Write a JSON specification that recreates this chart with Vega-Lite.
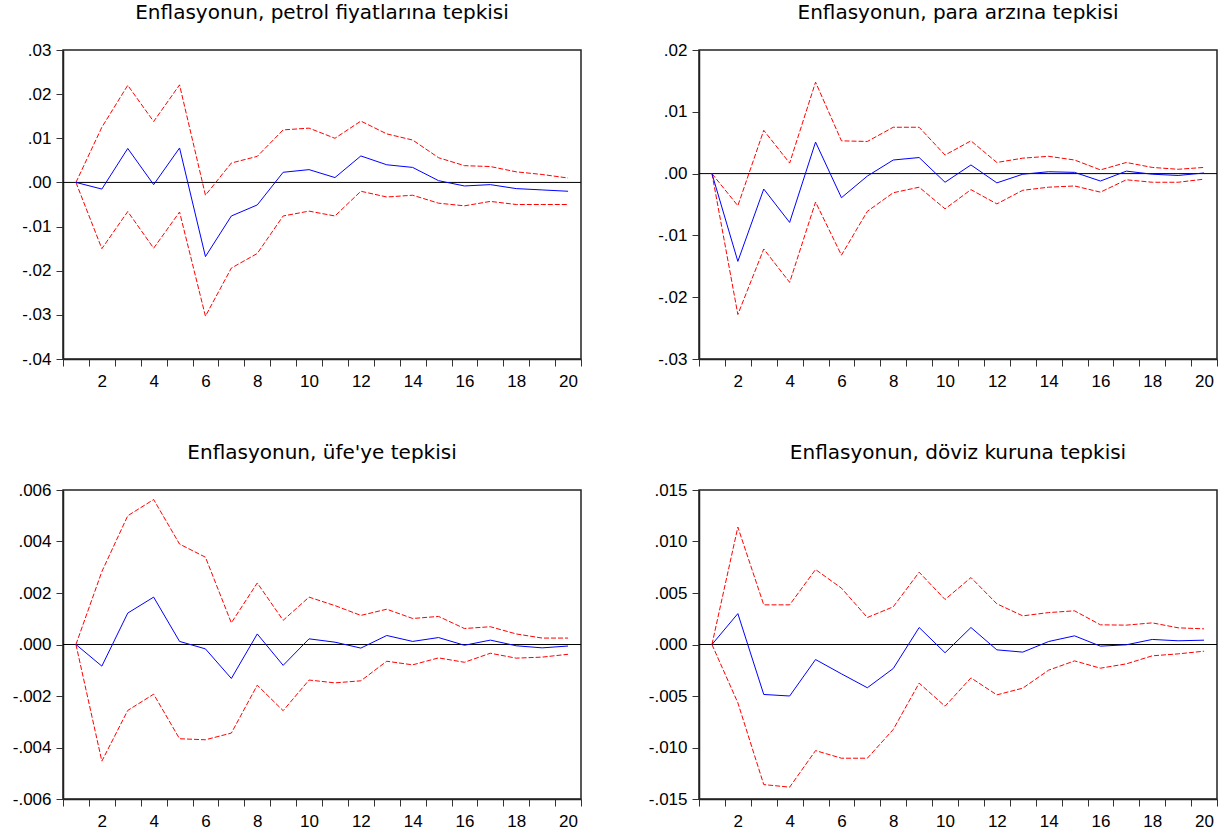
{
  "$schema": "https://vega.github.io/schema/vega-lite/v6.json",
  "padding": {"left": 11, "top": 2, "right": 5, "bottom": 5},
  "background": "#ffffff",
  "columns": 2,
  "spacing": {"row": 131, "column": 118},
  "bounds": "flush",
  "datasets": {
    "p1": [
      {"t":1,"r":0,"u":0,"l":0},
      {"t":2,"r":-0.0015,"u":0.0125,"l":-0.0150},
      {"t":3,"r":0.0077,"u":0.0220,"l":-0.0066},
      {"t":4,"r":-0.0005,"u":0.0138,"l":-0.0149},
      {"t":5,"r":0.0078,"u":0.0221,"l":-0.0067},
      {"t":6,"r":-0.0168,"u":-0.0029,"l":-0.0303},
      {"t":7,"r":-0.0076,"u":0.0044,"l":-0.0194},
      {"t":8,"r":-0.0051,"u":0.0059,"l":-0.0161},
      {"t":9,"r":0.0023,"u":0.0119,"l":-0.0076},
      {"t":10,"r":0.0029,"u":0.0123,"l":-0.0065},
      {"t":11,"r":0.0011,"u":0.0100,"l":-0.0076},
      {"t":12,"r":0.0060,"u":0.0139,"l":-0.0020},
      {"t":13,"r":0.0040,"u":0.0110,"l":-0.0033},
      {"t":14,"r":0.0034,"u":0.0096,"l":-0.0029},
      {"t":15,"r":0.0004,"u":0.0056,"l":-0.0047},
      {"t":16,"r":-0.0008,"u":0.0038,"l":-0.0053},
      {"t":17,"r":-0.0005,"u":0.0036,"l":-0.0043},
      {"t":18,"r":-0.0014,"u":0.0024,"l":-0.0050},
      {"t":19,"r":-0.0017,"u":0.0018,"l":-0.0050},
      {"t":20,"r":-0.0020,"u":0.0010,"l":-0.0050}
    ],
    "p2": [
      {"t":1,"r":0,"u":0,"l":0},
      {"t":2,"r":-0.0142,"u":-0.0052,"l":-0.0228},
      {"t":3,"r":-0.0025,"u":0.0070,"l":-0.0122},
      {"t":4,"r":-0.0079,"u":0.0017,"l":-0.0176},
      {"t":5,"r":0.0051,"u":0.0148,"l":-0.0046},
      {"t":6,"r":-0.0039,"u":0.0053,"l":-0.0132},
      {"t":7,"r":-0.0004,"u":0.0052,"l":-0.0061},
      {"t":8,"r":0.0022,"u":0.0075,"l":-0.0031},
      {"t":9,"r":0.0026,"u":0.0075,"l":-0.0022},
      {"t":10,"r":-0.0014,"u":0.0030,"l":-0.0057},
      {"t":11,"r":0.0014,"u":0.0053,"l":-0.0026},
      {"t":12,"r":-0.0015,"u":0.0018,"l":-0.0049},
      {"t":13,"r":-0.0001,"u":0.0025,"l":-0.0027},
      {"t":14,"r":0.0003,"u":0.0028,"l":-0.0022},
      {"t":15,"r":0.0002,"u":0.0022,"l":-0.0020},
      {"t":16,"r":-0.0012,"u":0.0006,"l":-0.0030},
      {"t":17,"r":0.0004,"u":0.0018,"l":-0.0010},
      {"t":18,"r":-0.0001,"u":0.0010,"l":-0.0014},
      {"t":19,"r":-0.0003,"u":0.0007,"l":-0.0014},
      {"t":20,"r":0.0001,"u":0.0010,"l":-0.0009}
    ],
    "p3": [
      {"t":1,"r":0,"u":0,"l":0},
      {"t":2,"r":-0.00084,"u":0.00283,"l":-0.00453},
      {"t":3,"r":0.00122,"u":0.00500,"l":-0.00256},
      {"t":4,"r":0.00184,"u":0.00563,"l":-0.00193},
      {"t":5,"r":0.00012,"u":0.00390,"l":-0.00366},
      {"t":6,"r":-0.00017,"u":0.00339,"l":-0.00370},
      {"t":7,"r":-0.00132,"u":0.00084,"l":-0.00344},
      {"t":8,"r":0.00041,"u":0.00239,"l":-0.00158},
      {"t":9,"r":-0.00081,"u":0.00094,"l":-0.00257},
      {"t":10,"r":0.00022,"u":0.00184,"l":-0.00138},
      {"t":11,"r":0.00009,"u":0.00151,"l":-0.00149},
      {"t":12,"r":-0.00014,"u":0.00113,"l":-0.00141},
      {"t":13,"r":0.00035,"u":0.00137,"l":-0.00065},
      {"t":14,"r":0.00012,"u":0.00101,"l":-0.00079},
      {"t":15,"r":0.00027,"u":0.00109,"l":-0.00052},
      {"t":16,"r":-0.00003,"u":0.00062,"l":-0.00069},
      {"t":17,"r":0.00017,"u":0.00069,"l":-0.00034},
      {"t":18,"r":-0.00005,"u":0.00041,"l":-0.00053},
      {"t":19,"r":-0.00013,"u":0.00025,"l":-0.00049},
      {"t":20,"r":-0.00006,"u":0.00025,"l":-0.00038}
    ],
    "p4": [
      {"t":1,"r":0,"u":0,"l":0},
      {"t":2,"r":0.0030,"u":0.0114,"l":-0.00566},
      {"t":3,"r":-0.00485,"u":0.00385,"l":-0.0136},
      {"t":4,"r":-0.0050,"u":0.00385,"l":-0.01385},
      {"t":5,"r":-0.00146,"u":0.00728,"l":-0.0103},
      {"t":6,"r":-0.00285,"u":0.00547,"l":-0.01104},
      {"t":7,"r":-0.0042,"u":0.00262,"l":-0.01104},
      {"t":8,"r":-0.00233,"u":0.00366,"l":-0.00825},
      {"t":9,"r":0.00165,"u":0.00702,"l":-0.00375},
      {"t":10,"r":-0.0008,"u":0.00437,"l":-0.00599},
      {"t":11,"r":0.00165,"u":0.0065,"l":-0.00324},
      {"t":12,"r":-0.00052,"u":0.00395,"l":-0.00489},
      {"t":13,"r":-0.00074,"u":0.00278,"l":-0.00424},
      {"t":14,"r":0.00029,"u":0.0031,"l":-0.00249},
      {"t":15,"r":0.00084,"u":0.00327,"l":-0.00159},
      {"t":16,"r":-0.00016,"u":0.00191,"l":-0.0023},
      {"t":17,"r":-0.00003,"u":0.00188,"l":-0.00188},
      {"t":18,"r":0.00049,"u":0.0021,"l":-0.0011},
      {"t":19,"r":0.00036,"u":0.00162,"l":-0.00091},
      {"t":20,"r":0.00042,"u":0.00152,"l":-0.00065}
    ]
  },
  "concat": [
    {
      "width": 518, "height": 309,
      "title": "Enflasyonun, petrol fiyatlarına tepkisi",
      "layer": [
        {"data": {"values": [{}]}, "mark": {"type": "rule", "color": "#000000", "strokeWidth": 1},
         "encoding": {"y": {"datum": 0, "type": "quantitative", "title": null, "scale": {"domain": [-0.04, 0.03], "nice": false, "zero": false},
           "axis": {"values": [-0.04,-0.03,-0.02,-0.01,0,0.01,0.02,0.03], "labelExpr": "(datum.value<-1e-9?'-':'')+replace(format(abs(datum.value),'.2f'),'0.','.')", "labelFlush": false, "labelOverlap": false}}}},
        {"data": {"name": "p1"}, "mark": {"type": "line", "color": "#ff0000", "strokeWidth": 1, "strokeDash": [5, 2]},
         "encoding": {
           "x": {"field": "t", "type": "quantitative", "title": null, "scale": {"domain": [0.5, 20.5], "nice": false, "zero": false},
                 "axis": {"values": [0.5,1.5,2.5,3.5,4.5,5.5,6.5,7.5,8.5,9.5,10.5,11.5,12.5,13.5,14.5,15.5,16.5,17.5,18.5,19.5,20.5], "labelExpr": "round(datum.value*2)%4==3 ? ''+round(datum.value+0.5) : ''", "labelOffset": 12.95, "labelFlush": false, "labelOverlap": false}},
           "y": {"field": "u", "type": "quantitative", "title": null, "scale": {"domain": [-0.04, 0.03], "nice": false, "zero": false},
                 "axis": {"values": [-0.04,-0.03,-0.02,-0.01,0,0.01,0.02,0.03], "labelExpr": "(datum.value<-1e-9?'-':'')+replace(format(abs(datum.value),'.2f'),'0.','.')", "labelFlush": false, "labelOverlap": false}}
         }},
        {"data": {"name": "p1"}, "mark": {"type": "line", "color": "#ff0000", "strokeWidth": 1, "strokeDash": [5, 2]},
         "encoding": {
           "x": {"field": "t", "type": "quantitative", "title": null, "scale": {"domain": [0.5, 20.5], "nice": false, "zero": false},
                 "axis": {"values": [0.5,1.5,2.5,3.5,4.5,5.5,6.5,7.5,8.5,9.5,10.5,11.5,12.5,13.5,14.5,15.5,16.5,17.5,18.5,19.5,20.5], "labelExpr": "round(datum.value*2)%4==3 ? ''+round(datum.value+0.5) : ''", "labelOffset": 12.95, "labelFlush": false, "labelOverlap": false}},
           "y": {"field": "l", "type": "quantitative", "title": null, "scale": {"domain": [-0.04, 0.03], "nice": false, "zero": false},
                 "axis": {"values": [-0.04,-0.03,-0.02,-0.01,0,0.01,0.02,0.03], "labelExpr": "(datum.value<-1e-9?'-':'')+replace(format(abs(datum.value),'.2f'),'0.','.')", "labelFlush": false, "labelOverlap": false}}
         }},
        {"data": {"name": "p1"}, "mark": {"type": "line", "color": "#0000ff", "strokeWidth": 1},
         "encoding": {
           "x": {"field": "t", "type": "quantitative", "title": null, "scale": {"domain": [0.5, 20.5], "nice": false, "zero": false},
                 "axis": {"values": [0.5,1.5,2.5,3.5,4.5,5.5,6.5,7.5,8.5,9.5,10.5,11.5,12.5,13.5,14.5,15.5,16.5,17.5,18.5,19.5,20.5], "labelExpr": "round(datum.value*2)%4==3 ? ''+round(datum.value+0.5) : ''", "labelOffset": 12.95, "labelFlush": false, "labelOverlap": false}},
           "y": {"field": "r", "type": "quantitative", "title": null, "scale": {"domain": [-0.04, 0.03], "nice": false, "zero": false},
                 "axis": {"values": [-0.04,-0.03,-0.02,-0.01,0,0.01,0.02,0.03], "labelExpr": "(datum.value<-1e-9?'-':'')+replace(format(abs(datum.value),'.2f'),'0.','.')", "labelFlush": false, "labelOverlap": false}}
         }}
      ]
    },
    {
      "width": 518, "height": 309,
      "title": "Enflasyonun, para arzına tepkisi",
      "layer": [
        {"data": {"values": [{}]}, "mark": {"type": "rule", "color": "#000000", "strokeWidth": 1},
         "encoding": {"y": {"datum": 0, "type": "quantitative", "title": null, "scale": {"domain": [-0.03, 0.02], "nice": false, "zero": false},
           "axis": {"values": [-0.03,-0.02,-0.01,0,0.01,0.02], "labelExpr": "(datum.value<-1e-9?'-':'')+replace(format(abs(datum.value),'.2f'),'0.','.')", "labelFlush": false, "labelOverlap": false}}}},
        {"data": {"name": "p2"}, "mark": {"type": "line", "color": "#ff0000", "strokeWidth": 1, "strokeDash": [5, 2]},
         "encoding": {
           "x": {"field": "t", "type": "quantitative", "title": null, "scale": {"domain": [0.5, 20.5], "nice": false, "zero": false},
                 "axis": {"values": [0.5,1.5,2.5,3.5,4.5,5.5,6.5,7.5,8.5,9.5,10.5,11.5,12.5,13.5,14.5,15.5,16.5,17.5,18.5,19.5,20.5], "labelExpr": "round(datum.value*2)%4==3 ? ''+round(datum.value+0.5) : ''", "labelOffset": 12.95, "labelFlush": false, "labelOverlap": false}},
           "y": {"field": "u", "type": "quantitative", "title": null, "scale": {"domain": [-0.03, 0.02], "nice": false, "zero": false},
                 "axis": {"values": [-0.03,-0.02,-0.01,0,0.01,0.02], "labelExpr": "(datum.value<-1e-9?'-':'')+replace(format(abs(datum.value),'.2f'),'0.','.')", "labelFlush": false, "labelOverlap": false}}
         }},
        {"data": {"name": "p2"}, "mark": {"type": "line", "color": "#ff0000", "strokeWidth": 1, "strokeDash": [5, 2]},
         "encoding": {
           "x": {"field": "t", "type": "quantitative", "title": null, "scale": {"domain": [0.5, 20.5], "nice": false, "zero": false},
                 "axis": {"values": [0.5,1.5,2.5,3.5,4.5,5.5,6.5,7.5,8.5,9.5,10.5,11.5,12.5,13.5,14.5,15.5,16.5,17.5,18.5,19.5,20.5], "labelExpr": "round(datum.value*2)%4==3 ? ''+round(datum.value+0.5) : ''", "labelOffset": 12.95, "labelFlush": false, "labelOverlap": false}},
           "y": {"field": "l", "type": "quantitative", "title": null, "scale": {"domain": [-0.03, 0.02], "nice": false, "zero": false},
                 "axis": {"values": [-0.03,-0.02,-0.01,0,0.01,0.02], "labelExpr": "(datum.value<-1e-9?'-':'')+replace(format(abs(datum.value),'.2f'),'0.','.')", "labelFlush": false, "labelOverlap": false}}
         }},
        {"data": {"name": "p2"}, "mark": {"type": "line", "color": "#0000ff", "strokeWidth": 1},
         "encoding": {
           "x": {"field": "t", "type": "quantitative", "title": null, "scale": {"domain": [0.5, 20.5], "nice": false, "zero": false},
                 "axis": {"values": [0.5,1.5,2.5,3.5,4.5,5.5,6.5,7.5,8.5,9.5,10.5,11.5,12.5,13.5,14.5,15.5,16.5,17.5,18.5,19.5,20.5], "labelExpr": "round(datum.value*2)%4==3 ? ''+round(datum.value+0.5) : ''", "labelOffset": 12.95, "labelFlush": false, "labelOverlap": false}},
           "y": {"field": "r", "type": "quantitative", "title": null, "scale": {"domain": [-0.03, 0.02], "nice": false, "zero": false},
                 "axis": {"values": [-0.03,-0.02,-0.01,0,0.01,0.02], "labelExpr": "(datum.value<-1e-9?'-':'')+replace(format(abs(datum.value),'.2f'),'0.','.')", "labelFlush": false, "labelOverlap": false}}
         }}
      ]
    },
    {
      "width": 518, "height": 309,
      "title": "Enflasyonun, üfe'ye tepkisi",
      "layer": [
        {"data": {"values": [{}]}, "mark": {"type": "rule", "color": "#000000", "strokeWidth": 1},
         "encoding": {"y": {"datum": 0, "type": "quantitative", "title": null, "scale": {"domain": [-0.006, 0.006], "nice": false, "zero": false},
           "axis": {"values": [-0.006,-0.004,-0.002,0,0.002,0.004,0.006], "labelExpr": "(datum.value<-1e-9?'-':'')+replace(format(abs(datum.value),'.3f'),'0.','.')", "labelFlush": false, "labelOverlap": false}}}},
        {"data": {"name": "p3"}, "mark": {"type": "line", "color": "#ff0000", "strokeWidth": 1, "strokeDash": [5, 2]},
         "encoding": {
           "x": {"field": "t", "type": "quantitative", "title": null, "scale": {"domain": [0.5, 20.5], "nice": false, "zero": false},
                 "axis": {"values": [0.5,1.5,2.5,3.5,4.5,5.5,6.5,7.5,8.5,9.5,10.5,11.5,12.5,13.5,14.5,15.5,16.5,17.5,18.5,19.5,20.5], "labelExpr": "round(datum.value*2)%4==3 ? ''+round(datum.value+0.5) : ''", "labelOffset": 12.95, "labelFlush": false, "labelOverlap": false}},
           "y": {"field": "u", "type": "quantitative", "title": null, "scale": {"domain": [-0.006, 0.006], "nice": false, "zero": false},
                 "axis": {"values": [-0.006,-0.004,-0.002,0,0.002,0.004,0.006], "labelExpr": "(datum.value<-1e-9?'-':'')+replace(format(abs(datum.value),'.3f'),'0.','.')", "labelFlush": false, "labelOverlap": false}}
         }},
        {"data": {"name": "p3"}, "mark": {"type": "line", "color": "#ff0000", "strokeWidth": 1, "strokeDash": [5, 2]},
         "encoding": {
           "x": {"field": "t", "type": "quantitative", "title": null, "scale": {"domain": [0.5, 20.5], "nice": false, "zero": false},
                 "axis": {"values": [0.5,1.5,2.5,3.5,4.5,5.5,6.5,7.5,8.5,9.5,10.5,11.5,12.5,13.5,14.5,15.5,16.5,17.5,18.5,19.5,20.5], "labelExpr": "round(datum.value*2)%4==3 ? ''+round(datum.value+0.5) : ''", "labelOffset": 12.95, "labelFlush": false, "labelOverlap": false}},
           "y": {"field": "l", "type": "quantitative", "title": null, "scale": {"domain": [-0.006, 0.006], "nice": false, "zero": false},
                 "axis": {"values": [-0.006,-0.004,-0.002,0,0.002,0.004,0.006], "labelExpr": "(datum.value<-1e-9?'-':'')+replace(format(abs(datum.value),'.3f'),'0.','.')", "labelFlush": false, "labelOverlap": false}}
         }},
        {"data": {"name": "p3"}, "mark": {"type": "line", "color": "#0000ff", "strokeWidth": 1},
         "encoding": {
           "x": {"field": "t", "type": "quantitative", "title": null, "scale": {"domain": [0.5, 20.5], "nice": false, "zero": false},
                 "axis": {"values": [0.5,1.5,2.5,3.5,4.5,5.5,6.5,7.5,8.5,9.5,10.5,11.5,12.5,13.5,14.5,15.5,16.5,17.5,18.5,19.5,20.5], "labelExpr": "round(datum.value*2)%4==3 ? ''+round(datum.value+0.5) : ''", "labelOffset": 12.95, "labelFlush": false, "labelOverlap": false}},
           "y": {"field": "r", "type": "quantitative", "title": null, "scale": {"domain": [-0.006, 0.006], "nice": false, "zero": false},
                 "axis": {"values": [-0.006,-0.004,-0.002,0,0.002,0.004,0.006], "labelExpr": "(datum.value<-1e-9?'-':'')+replace(format(abs(datum.value),'.3f'),'0.','.')", "labelFlush": false, "labelOverlap": false}}
         }}
      ]
    },
    {
      "width": 518, "height": 309,
      "title": "Enflasyonun, döviz kuruna tepkisi",
      "layer": [
        {"data": {"values": [{}]}, "mark": {"type": "rule", "color": "#000000", "strokeWidth": 1},
         "encoding": {"y": {"datum": 0, "type": "quantitative", "title": null, "scale": {"domain": [-0.015, 0.015], "nice": false, "zero": false},
           "axis": {"values": [-0.015,-0.01,-0.005,0,0.005,0.01,0.015], "labelExpr": "(datum.value<-1e-9?'-':'')+replace(format(abs(datum.value),'.3f'),'0.','.')", "labelFlush": false, "labelOverlap": false}}}},
        {"data": {"name": "p4"}, "mark": {"type": "line", "color": "#ff0000", "strokeWidth": 1, "strokeDash": [5, 2]},
         "encoding": {
           "x": {"field": "t", "type": "quantitative", "title": null, "scale": {"domain": [0.5, 20.5], "nice": false, "zero": false},
                 "axis": {"values": [0.5,1.5,2.5,3.5,4.5,5.5,6.5,7.5,8.5,9.5,10.5,11.5,12.5,13.5,14.5,15.5,16.5,17.5,18.5,19.5,20.5], "labelExpr": "round(datum.value*2)%4==3 ? ''+round(datum.value+0.5) : ''", "labelOffset": 12.95, "labelFlush": false, "labelOverlap": false}},
           "y": {"field": "u", "type": "quantitative", "title": null, "scale": {"domain": [-0.015, 0.015], "nice": false, "zero": false},
                 "axis": {"values": [-0.015,-0.01,-0.005,0,0.005,0.01,0.015], "labelExpr": "(datum.value<-1e-9?'-':'')+replace(format(abs(datum.value),'.3f'),'0.','.')", "labelFlush": false, "labelOverlap": false}}
         }},
        {"data": {"name": "p4"}, "mark": {"type": "line", "color": "#ff0000", "strokeWidth": 1, "strokeDash": [5, 2]},
         "encoding": {
           "x": {"field": "t", "type": "quantitative", "title": null, "scale": {"domain": [0.5, 20.5], "nice": false, "zero": false},
                 "axis": {"values": [0.5,1.5,2.5,3.5,4.5,5.5,6.5,7.5,8.5,9.5,10.5,11.5,12.5,13.5,14.5,15.5,16.5,17.5,18.5,19.5,20.5], "labelExpr": "round(datum.value*2)%4==3 ? ''+round(datum.value+0.5) : ''", "labelOffset": 12.95, "labelFlush": false, "labelOverlap": false}},
           "y": {"field": "l", "type": "quantitative", "title": null, "scale": {"domain": [-0.015, 0.015], "nice": false, "zero": false},
                 "axis": {"values": [-0.015,-0.01,-0.005,0,0.005,0.01,0.015], "labelExpr": "(datum.value<-1e-9?'-':'')+replace(format(abs(datum.value),'.3f'),'0.','.')", "labelFlush": false, "labelOverlap": false}}
         }},
        {"data": {"name": "p4"}, "mark": {"type": "line", "color": "#0000ff", "strokeWidth": 1},
         "encoding": {
           "x": {"field": "t", "type": "quantitative", "title": null, "scale": {"domain": [0.5, 20.5], "nice": false, "zero": false},
                 "axis": {"values": [0.5,1.5,2.5,3.5,4.5,5.5,6.5,7.5,8.5,9.5,10.5,11.5,12.5,13.5,14.5,15.5,16.5,17.5,18.5,19.5,20.5], "labelExpr": "round(datum.value*2)%4==3 ? ''+round(datum.value+0.5) : ''", "labelOffset": 12.95, "labelFlush": false, "labelOverlap": false}},
           "y": {"field": "r", "type": "quantitative", "title": null, "scale": {"domain": [-0.015, 0.015], "nice": false, "zero": false},
                 "axis": {"values": [-0.015,-0.01,-0.005,0,0.005,0.01,0.015], "labelExpr": "(datum.value<-1e-9?'-':'')+replace(format(abs(datum.value),'.3f'),'0.','.')", "labelFlush": false, "labelOverlap": false}}
         }}
      ]
    }
  ],
  "config": {
    "view": {"stroke": "#222222", "strokeWidth": 1.5},
    "axis": {"labelFont": "Liberation Sans", "labelFontSize": 17, "labelColor": "#000000", "tickColor": "#333333", "tickSize": 7, "tickWidth": 1, "domainColor": "#222222", "domainWidth": 1.5, "grid": false},
    "axisX": {"labelPadding": 7},
    "axisY": {"labelPadding": 5},
    "title": {"font": "DejaVu Sans", "fontSize": 20, "fontWeight": "normal", "color": "#000000", "anchor": "middle", "frame": "group", "baseline": "alphabetic", "offset": 18}
  }
}
